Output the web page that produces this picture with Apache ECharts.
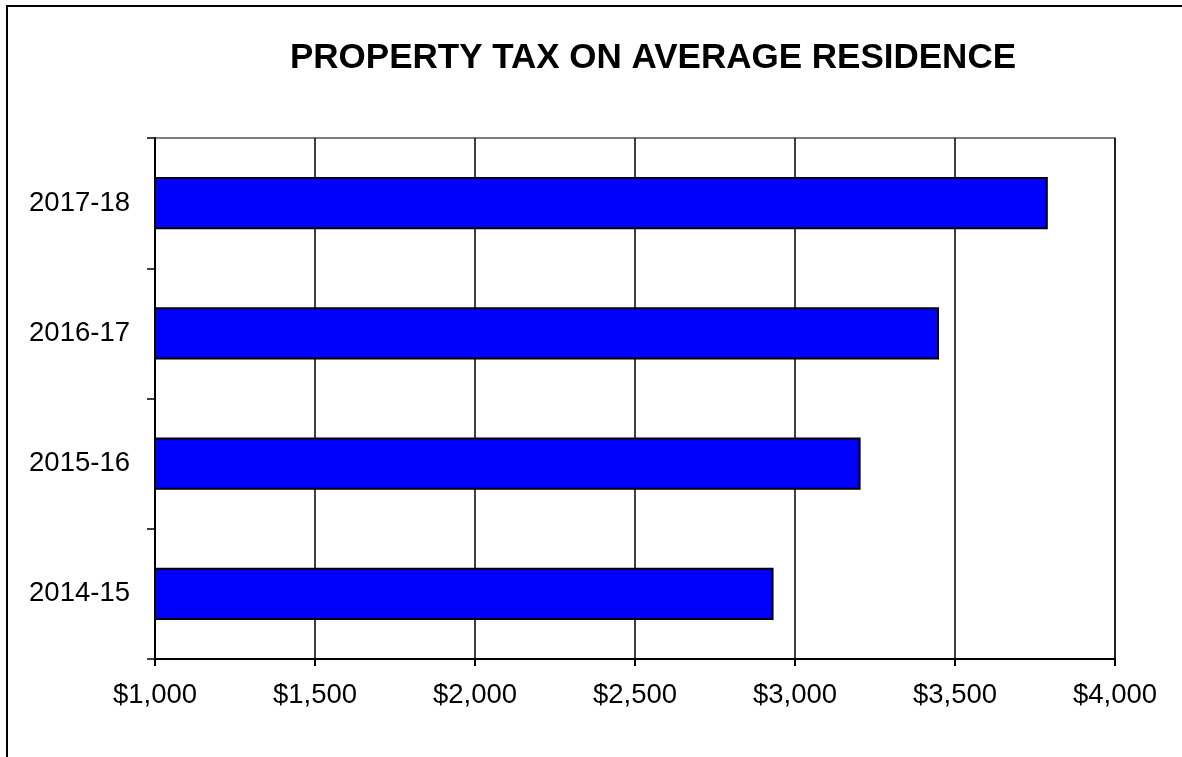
<!DOCTYPE html>
<html>
<head>
<meta charset="utf-8">
<script src="https://cdn.jsdelivr.net/npm/echarts@6/dist/echarts.min.js"></script>
<style>
html,body{margin:0;padding:0;background:#fff;}
#chart{width:1182px;height:757px;}
</style>
</head>
<body>
<div id="chart"></div>
<script>
const titleText = 'PROPERTY TAX ON AVERAGE RESIDENCE';
const categories = ['2014-15', '2015-16', '2016-17', '2017-18'];
const taxValues = [2933, 3205, 3450, 3790];
const xTicks = { min: 1000, max: 4000, interval: 500 };

const FONT = "Arial, 'Liberation Sans', sans-serif";
const chart = echarts.init(document.getElementById('chart'), null, { renderer: 'canvas' });

chart.setOption({
  backgroundColor: '#ffffff',
  animation: false,
  graphic: [
    {
      type: 'polyline',
      shape: { points: [[7, 760], [7, 6], [1190, 6]] },
      style: { stroke: '#000', lineWidth: 2, fill: null },
      z: 0
    },
    {
      type: 'text',
      x: 653,
      y: 58,
      style: {
        text: titleText,
        font: 'bold 35px ' + FONT,
        fill: '#000',
        textAlign: 'center',
        textVerticalAlign: 'middle'
      }
    }
  ],
  grid: {
    left: 155,
    right: 67,
    top: 138,
    bottom: 98,
    show: true,
    borderColor: '#808080',
    borderWidth: 2,
    backgroundColor: 'transparent'
  },
  xAxis: {
    type: 'value',
    min: xTicks.min,
    max: xTicks.max,
    interval: xTicks.interval,
    axisLine: { show: true, onZero: false, lineStyle: { color: '#000', width: 2 } },
    axisTick: { show: true, length: 7, lineStyle: { color: '#000', width: 2 } },
    axisLabel: {
      margin: 22,
      color: '#000',
      fontSize: 27.5,
      fontFamily: FONT,
      formatter: v => '$' + v.toLocaleString('en-US')
    },
    splitLine: { show: true, lineStyle: { color: '#000', width: 1.5 } }
  },
  yAxis: {
    type: 'category',
    data: categories,
    boundaryGap: true,
    axisLine: { show: true, lineStyle: { color: '#000', width: 2 } },
    axisTick: { show: true, inside: false, length: 8, alignWithLabel: false, lineStyle: { color: '#000', width: 1.5 } },
    axisLabel: { margin: 25, color: '#000', fontSize: 27.5, fontFamily: FONT },
    splitLine: { show: false }
  },
  series: [
    {
      type: 'bar',
      data: taxValues,
      barCategoryGap: '60%',
      itemStyle: { color: '#0000ff', borderColor: '#000', borderWidth: 2 }
    }
  ]
});
</script>
</body>
</html>
